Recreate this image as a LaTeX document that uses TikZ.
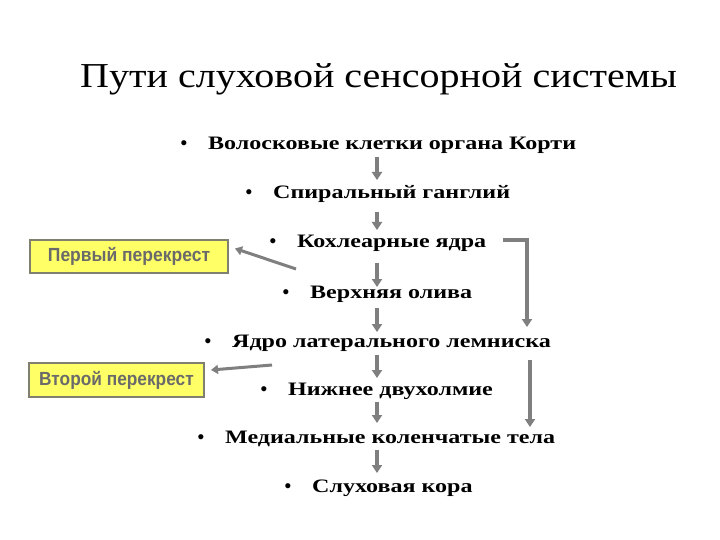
\documentclass[tikz,border=0pt]{standalone}
\usepackage{fontspec}
\setmainfont{Liberation Serif}
\newfontfamily\boxfont{Liberation Sans}
\usetikzlibrary{arrows.meta,calc}
\definecolor{arrgray}{HTML}{7F7F7F}
\definecolor{boxyellow}{HTML}{FFFF66}
\definecolor{boxedge}{HTML}{808070}
\definecolor{boxtext}{HTML}{6A6A6A}
\tikzset{
  titletext/.style={anchor=base west,inner sep=0pt,font=\fontsize{35bp}{40bp}\selectfont},
  itemtext/.style={anchor=base west,inner sep=0pt,font=\fontsize{19bp}{22bp}\selectfont\bfseries},
  crossbox/.style={draw=boxedge,line width=2bp,fill=boxyellow,inner sep=0pt,
    font=\boxfont\bfseries\fontsize{19bp}{20bp}\selectfont,text=boxtext},
  arr/.style={draw=arrgray,line width=3.5bp,-{Triangle[width=10bp,length=8bp]}},
  crossarr/.style={draw=arrgray,line width=3bp,-{Triangle[width=9bp,length=7bp]}}
}
\newcommand{\bul}{\llap{\textbullet\hspace{21bp}}}
\newcommand{\wide}[1]{\bul\scalebox{1.265}[1]{#1}}
\begin{document}
\begin{tikzpicture}[x=1bp,y=-1bp]
\fill[white] (0,0) rectangle (720,540);
\path[use as bounding box] (0,0) rectangle (720,540);
\node[titletext] (title) at (80,88) {\scalebox{1.144}[1]{Пути слуховой сенсорной системы}};
\node[itemtext] (n1) at (208,150) {\wide{Волосковые клетки органа Корти}};
\node[itemtext] (n2) at (273,199) {\wide{Спиральный ганглий}};
\node[itemtext] (n3) at (297,248) {\wide{Кохлеарные ядра}};
\node[itemtext] (n4) at (310,298) {\wide{Верхняя олива}};
\node[itemtext] (n5) at (232,347) {\wide{Ядро латерального лемниска}};
\node[itemtext] (n6) at (288,395) {\wide{Нижнее двухолмие}};
\node[itemtext] (n7) at (225,443) {\wide{Медиальные коленчатые тела}};
\node[itemtext] (n8) at (312,492) {\wide{Слуховая кора}};
\node[crossbox,minimum width=198bp,minimum height=33bp] (box1) at (129,256.5)
  {\scalebox{0.92}[1]{Первый перекрест}};
\node[crossbox,minimum width=175bp,minimum height=34bp] (box2) at (116.5,380)
  {\scalebox{0.91}[1]{Второй перекрест}};
\coordinate (ax) at (377,0);
\coordinate (rx) at (527,0);
\coordinate (rx2) at (530,0);
\draw[arr] ($(n1.base -| ax)+(0,7)$) -- ($(n2.base -| ax)+(0,-19)$);
\draw[arr] ($(n2.base -| ax)+(0,13)$) -- ($(n3.base -| ax)+(0,-18)$);
\draw[arr] ($(n3.base -| ax)+(0,15)$) -- ($(n4.base -| ax)+(0,-11)$);
\draw[arr] ($(n4.base -| ax)+(0,10)$) -- ($(n5.base -| ax)+(0,-15)$);
\draw[arr] ($(n5.base -| ax)+(0,8)$) -- ($(n6.base -| ax)+(0,-17)$);
\draw[arr] ($(n6.base -| ax)+(0,7)$) -- ($(n7.base -| ax)+(0,-20)$);
\draw[arr] ($(n7.base -| ax)+(0,7)$) -- ($(n8.base -| ax)+(0,-19)$);
\draw[arr] ($(n3.base east)+(17,-8)$) -| ($(n5.base -| rx)+(0,-20)$);
\draw[arr] ($(n5.base -| rx2)+(0,13)$) -- ($(n7.base -| rx2)+(0,-16)$);
\draw[crossarr] ($(n3.base west)+(-1,21)$) -- ($(box1.east)+(6,-8)$);
\draw[crossarr] ($(n6.base west)+(-16,-30)$) -- ($(box2.east)+(6,-10)$);
\end{tikzpicture}
\end{document}
